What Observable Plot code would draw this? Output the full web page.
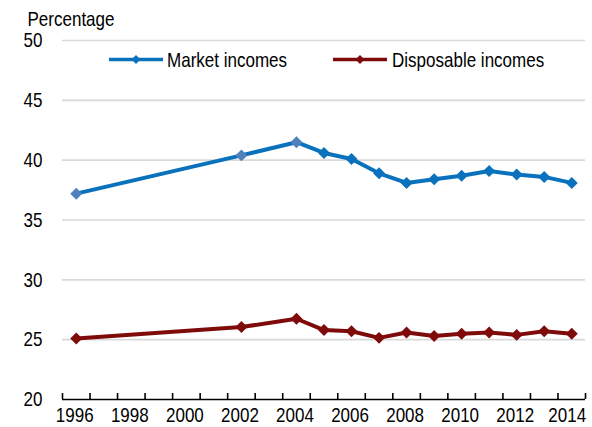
<!DOCTYPE html>
<html><head><meta charset="utf-8">
<script src="https://cdn.jsdelivr.net/npm/d3@7"></script>
<script src="https://cdn.jsdelivr.net/npm/@observablehq/plot@0.6"></script>
<style>
body{margin:0;background:#fff;}
#wrap{position:relative;width:592px;height:427px;}
#wrap svg{position:absolute;left:0;top:0;}
</style></head><body><div id="wrap"></div>
<script>
const FONT = '"Liberation Sans",Arial,sans-serif';
const years = [1996, 2002, 2004, 2005, 2006, 2007, 2008, 2009, 2010, 2011, 2012, 2013, 2014];
const market = [37.2, 40.4, 41.5, 40.6, 40.1, 38.9, 38.1, 38.4, 38.7, 39.1, 38.8, 38.6, 38.1];
const disposable = [25.1, 26.05, 26.75, 25.8, 25.7, 25.15, 25.6, 25.3, 25.5, 25.6, 25.4, 25.7, 25.5];
const lightMarkerYears = [1996, 2002, 2004];
const xTickLabels = [1996, 1998, 2000, 2002, 2004, 2006, 2008, 2010, 2012, 2014];
const yTicks = [20, 25, 30, 35, 40, 45, 50];
const seriesNames = ["Market incomes", "Disposable incomes"];
const colors = {market: "#0a72bd", marketLight: "#4f81bd", disposable: "#7f0a0a"};

const mk = years.map((y, i) => ({year: y, value: market[i]}));
const dp = years.map((y, i) => ({year: y, value: disposable[i]}));
const boundaries = d3.range(1995.5, 2015, 1);

const plot = Plot.plot({
  width: 592, height: 427,
  marginLeft: 62, marginRight: 7, marginTop: 40, marginBottom: 28,
  style: {fontFamily: FONT, fontSize: "21px", color: "#000", background: "transparent"},
  x: {domain: [1995.5, 2014.5]},
  y: {domain: [20, 50]},
  marks: [
    Plot.ruleY(yTicks.filter(d => d > 20), {stroke: "#d9d9d9", strokeWidth: 1.6}),
    Plot.ruleY([20], {stroke: "#000", strokeWidth: 1.6}),
    Plot.ruleX(boundaries, {x: d => d, y1: 20, y2: 20.5, stroke: "#000", strokeWidth: 1.6}),
    Plot.axisX({ticks: xTickLabels, tickSize: 0, tickPadding: 8, dx: -1.5, tickFormat: d => String(d), label: null, fontSize: 21}),
    Plot.axisY({ticks: yTicks, tickSize: 0, tickPadding: 20, label: null, fontSize: 21}),
    Plot.text(["Percentage"], {frameAnchor: "top-left", text: d => d, textAnchor: "start", lineAnchor: "bottom", dx: -35, dy: -15, fontSize: 21}),
    Plot.line(mk, {x: "year", y: "value", stroke: colors.market, strokeWidth: 4}),
    Plot.dot(mk, {x: "year", y: "value", symbol: "diamond2", r: 5.4,
      fill: d => lightMarkerYears.includes(d.year) ? colors.marketLight : colors.market, stroke: "none"}),
    Plot.line(dp, {x: "year", y: "value", stroke: colors.disposable, strokeWidth: 4}),
    Plot.dot(dp, {x: "year", y: "value", symbol: "diamond2", r: 5.4, fill: colors.disposable, stroke: "none"})
  ]
});
const wrap = document.getElementById("wrap");
wrap.appendChild(plot);

// Legend overlay (inside plot area)
const leg = d3.select(wrap).append("svg").attr("width", 592).attr("height", 427)
  .style("pointer-events", "none").style("font-family", FONT);
const items = [
  {name: seriesNames[0], color: colors.market, x0: 109, tx: 167},
  {name: seriesNames[1], color: colors.disposable, x0: 333, tx: 392}
];
items.forEach(it => {
  leg.append("line").attr("x1", it.x0).attr("x2", it.x0 + 54).attr("y1", 59.5).attr("y2", 59.5)
    .attr("stroke", it.color).attr("stroke-width", 3.5);
  leg.append("path").attr("d", d3.symbol(d3.symbolDiamond2, 50)())
    .attr("transform", `translate(${it.x0 + 27},59.5)`).attr("fill", it.color);
  leg.append("text").attr("x", it.tx).attr("y", 66.5).attr("font-size", 21).attr("fill", "#000").text(it.name);
});

// Narrow (condensed) look of the original typeface
const lastLabel = String(xTickLabels[xTickLabels.length - 1]);
wrap.querySelectorAll("text").forEach(t => {
  const w = t.getComputedTextLength();
  if (w > 0) {
    const nw = w * 0.81;
    t.setAttribute("textLength", nw.toFixed(1));
    t.setAttribute("lengthAdjust", "spacingAndGlyphs");
    // rightmost x label: anchored at its right edge, a little inside the frame as in the original
    if (t.textContent === lastLabel && t.parentNode && /x-axis/.test(t.parentNode.getAttribute("aria-label") || "")) {
      t.style.textAnchor = "end";
      t.setAttribute("x", (nw / 2 - 3).toFixed(1));
    }
  }
});
</script>
</body></html>
